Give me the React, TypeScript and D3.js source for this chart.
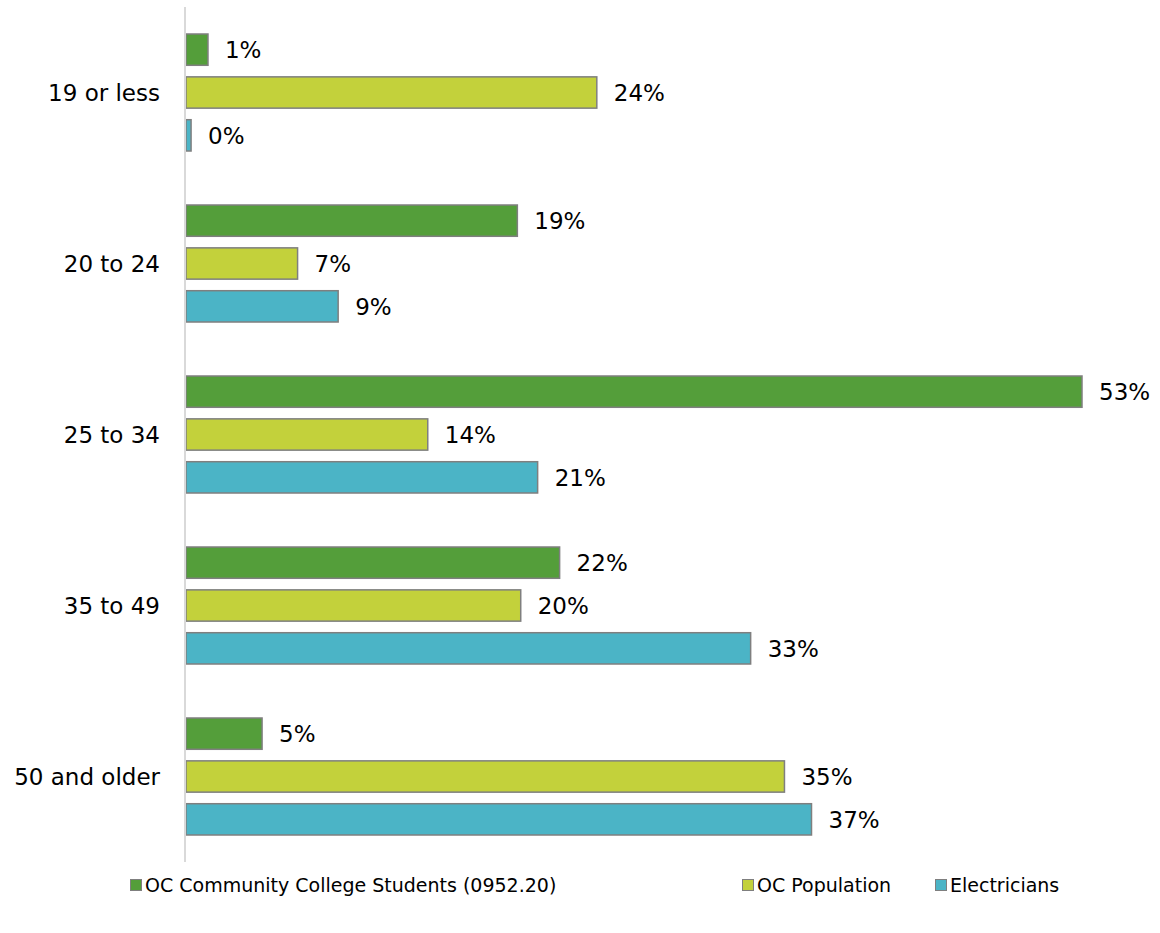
import React from "react";
import * as d3 from "d3";

const categories = ["19 or less", "20 to 24", "25 to 34", "35 to 49", "50 and older"];
const seriesNames = ["OC Community College Students (0952.20)", "OC Population", "Electricians"];
const studentsValues = [1.3, 19.6, 53.0, 22.1, 4.5];
const populationValues = [24.3, 6.6, 14.3, 19.8, 35.4];
const electriciansValues = [0.3, 9.0, 20.8, 33.4, 37.0];
const studentsLabels = ["1%", "19%", "53%", "22%", "5%"];
const populationLabels = ["24%", "7%", "14%", "20%", "35%"];
const electriciansLabels = ["0%", "9%", "21%", "33%", "37%"];

const colors = ["#549E3A", "#C3D13B", "#4BB4C6"];
const FONT = "'DejaVu Sans', sans-serif";

export default function App() {
  const W = 1160, H = 933;
  const x0 = 186;
  const top = 7, bottom = 862;
  const x = d3.scaleLinear().domain([0, 53]).range([x0, 1082]);
  const y = d3.scaleBand<string>().domain(categories).range([top, bottom]).paddingInner(0).paddingOuter(0);
  const inner = d3.scaleBand<number>().domain([0, 1, 2]).range([27, y.bandwidth() - 27]).paddingInner(0.27).paddingOuter(0);

  const series = [
    { name: seriesNames[0], values: studentsValues, labels: studentsLabels, color: colors[0] },
    { name: seriesNames[1], values: populationValues, labels: populationLabels, color: colors[1] },
    { name: seriesNames[2], values: electriciansValues, labels: electriciansLabels, color: colors[2] },
  ];

  const legendX = [130, 742, 935];
  const legendY = 885;

  return (
    <svg width={W} height={H} style={{ position: "absolute", left: 0, top: 0, background: "#fff" }} fontFamily={FONT}>
      {categories.map((c, ci) => (
        <g key={c}>
          {series.map((s, si) => {
            const by = (y(c) as number) + (inner(si) as number);
            const bw = Math.max(0, x(s.values[ci]) - x0);
            return (
              <g key={si}>
                <rect x={x0} y={by} width={bw} height={inner.bandwidth()} fill={s.color} stroke="#7F7F7F" strokeWidth={1.5} />
                <text x={x0 + bw + 17} y={by + inner.bandwidth() / 2} dy="0.36em" fontSize={23} fill="#000">{s.labels[ci]}</text>
              </g>
            );
          })}
          <text x={160} y={(y(c) as number) + y.bandwidth() / 2} dy="0.36em" textAnchor="end" fontSize={23} fill="#000">{c}</text>
        </g>
      ))}
      <line x1={185} x2={185} y1={top} y2={bottom} stroke="#D9D9D9" strokeWidth={2} />
      {series.map((s, si) => (
        <g key={s.name} transform={`translate(${legendX[si]},${legendY})`}>
          <rect x={0.5} y={-5.5} width={11} height={11} fill={s.color} stroke="#7F7F7F" strokeWidth={1} />
          <text x={15} y={0} dy="0.36em" fontSize={19} fill="#000">{s.name}</text>
        </g>
      ))}
    </svg>
  );
}
